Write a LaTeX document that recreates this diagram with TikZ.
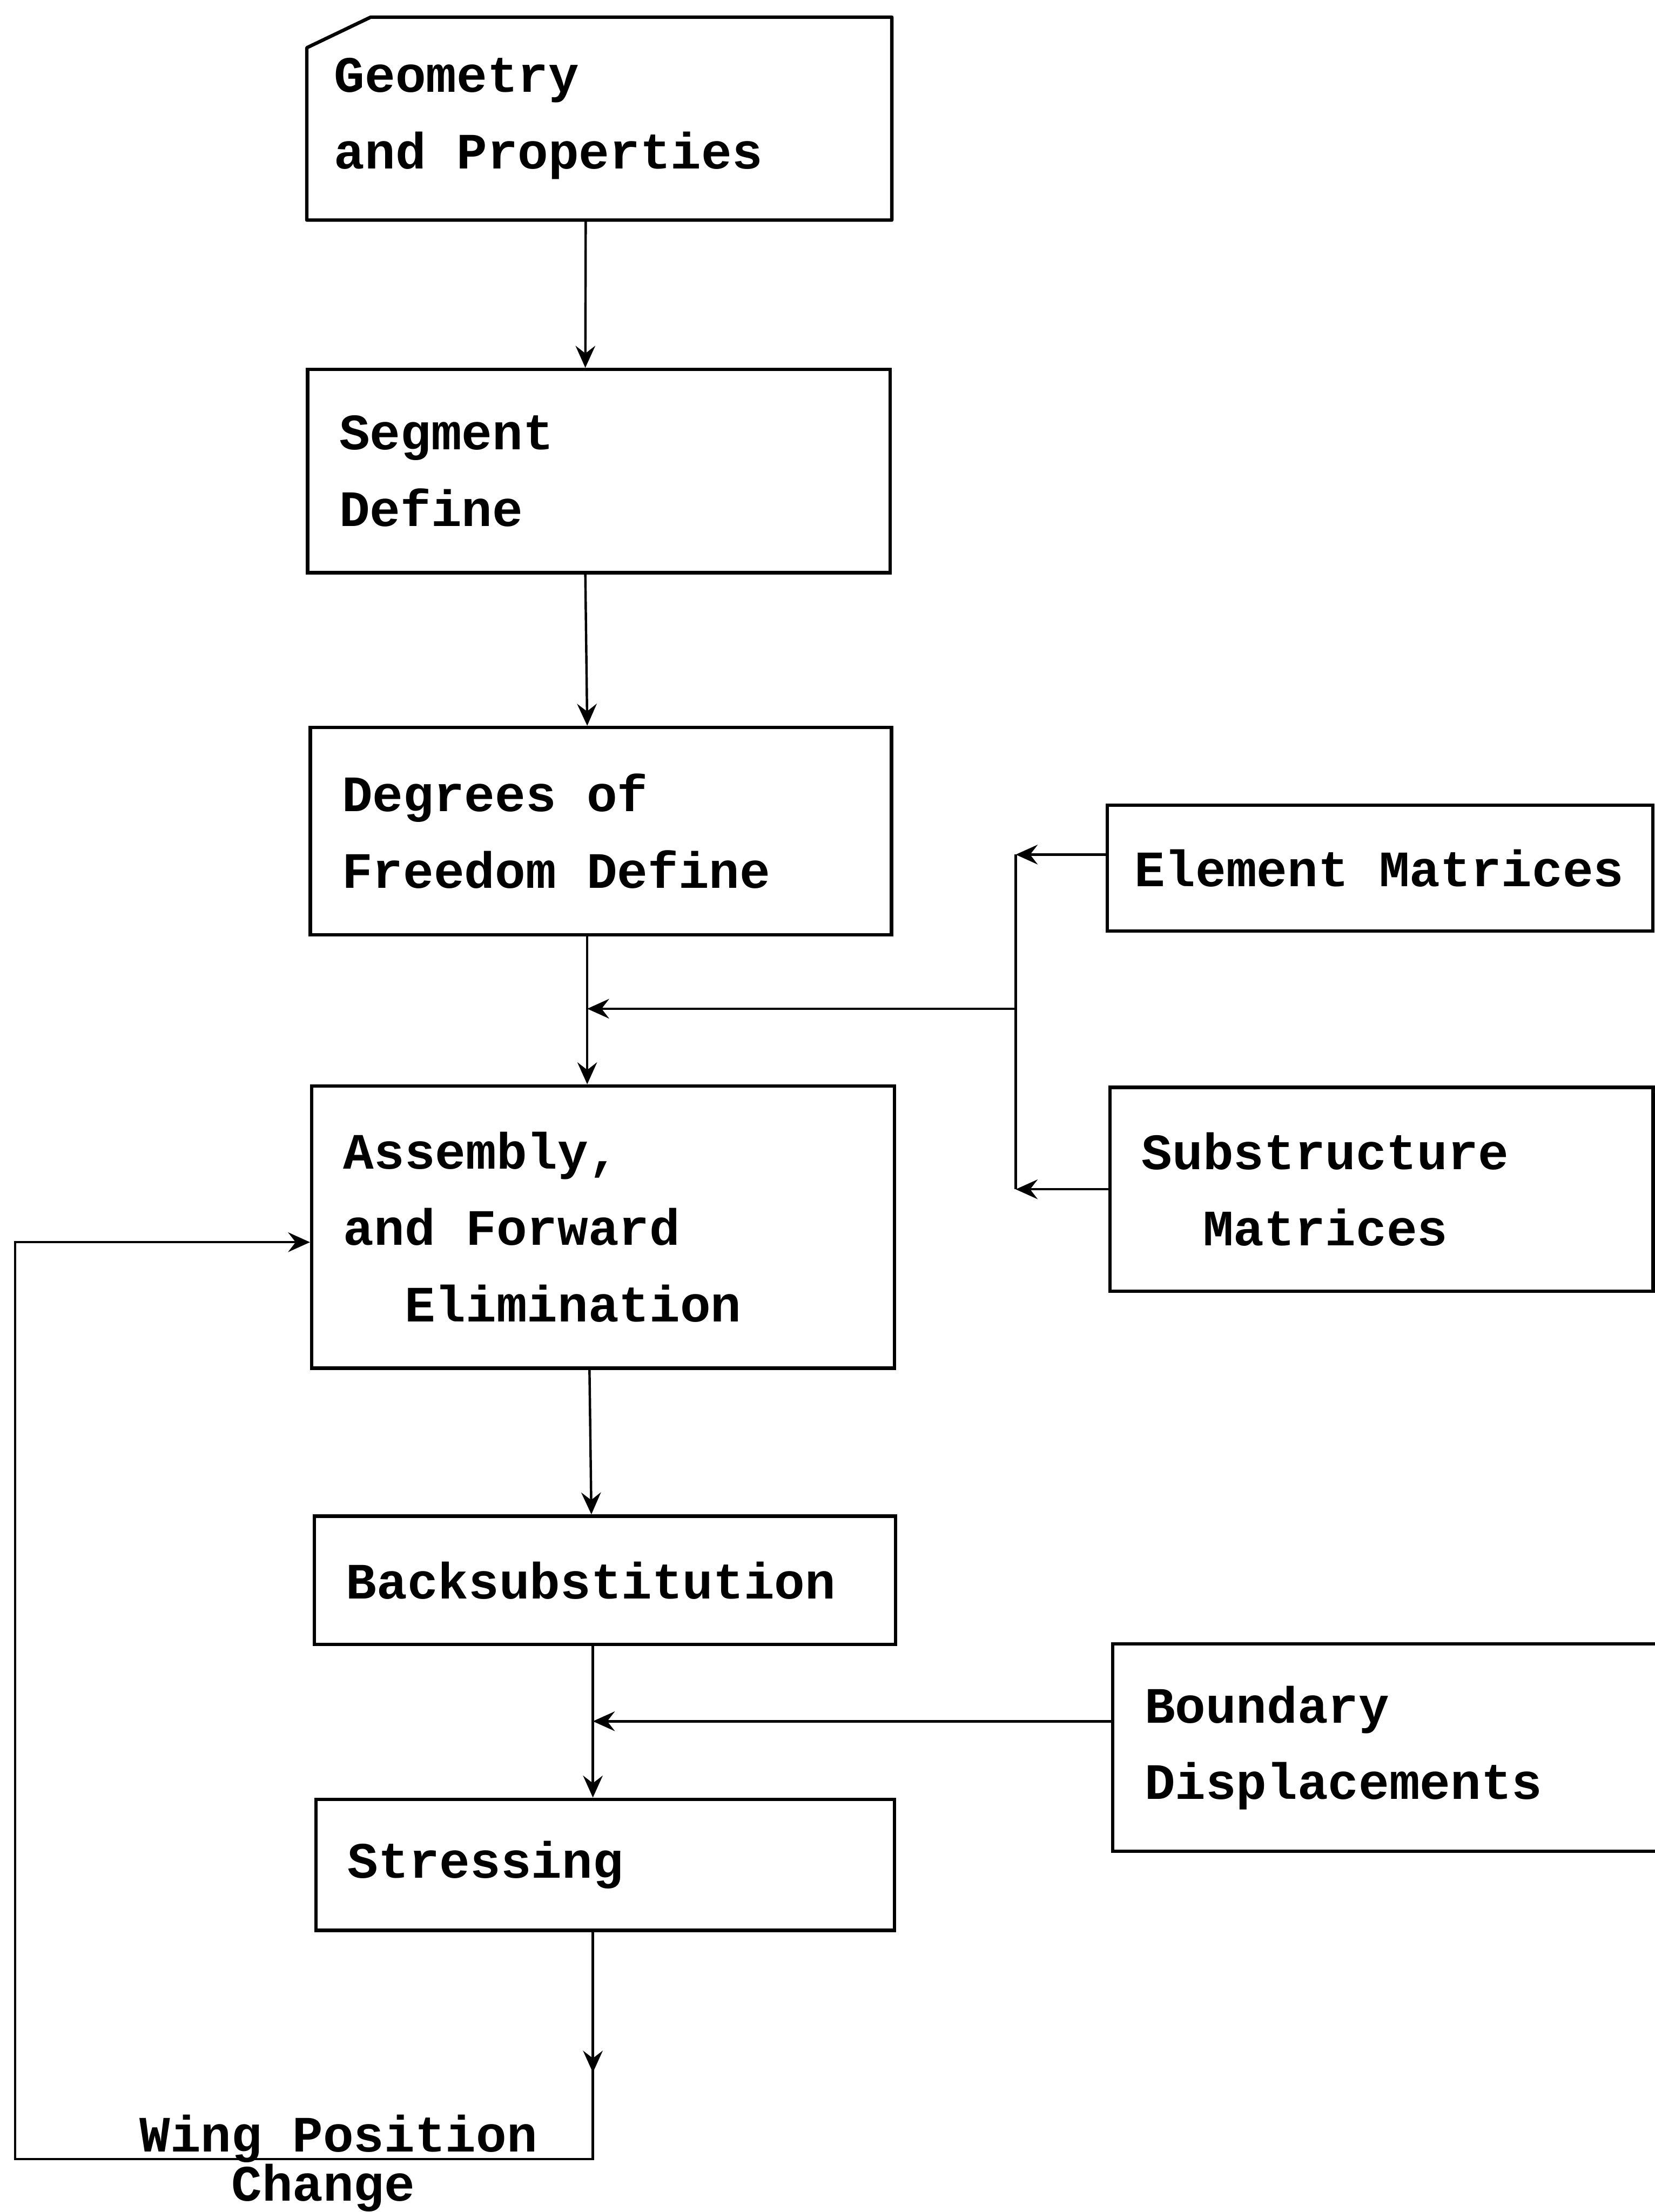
\documentclass[tikz,border=0pt]{standalone}
\usepackage{fontspec}
\setmonofont{Liberation Mono}
\usetikzlibrary{arrows.meta}

\newcommand{\typewriter}{\ttfamily\bfseries\fontsize{19.2}{28.7}\selectfont}

\tikzset{
	box/.style={draw, line width=1.3pt, rectangle, align=flush left, inner xsep=0.42cm, inner ysep=0pt, font=\typewriter,
		execute at begin node={\spaceskip=0.6em\relax\xspaceskip=0.6em\relax}},
	boxline/.style={line width=1.3pt, line join=round},
	line/.style={line width=0.9pt},
	flow/.style={line width=0.9pt, -{Stealth[length=2.9mm,width=2.6mm,inset=1mm]}},
	wing/.style={align=left, inner sep=0pt, font=\typewriter},
}

\begin{document}
\begin{tikzpicture}
	\useasboundingbox (0,0) rectangle (21.895,-29.275);

%% Main column
	\draw (7.93,-1.57) node[box, draw=none, inner xsep=0.34cm, text width=7.015cm, minimum height=2.64cm] (geo){Geometry\\and Properties};
	\draw[boxline] (geo.south west) -- ([yshift=-4.05mm]geo.north west) -- ([xshift=8.45mm]geo.north west) -- (geo.north east) -- (geo.south east) -- cycle;
	\draw (7.925,-6.235) node[box, text width=6.87cm, minimum height=2.69cm] (seg){Segment\\Define};
	\draw (7.95,-11.0) node[box, text width=6.85cm, minimum height=2.745cm] (dof){Degrees of\\Freedom Define};
	\draw (7.98,-16.24) node[box, text width=6.87cm, minimum height=3.735cm] (asm){Assembly,\\and Forward\\\phantom{an}Elimination};
	\draw (8.005,-20.915) node[box, text width=6.85cm, minimum height=1.70cm] (back){Backsubstitution};
	\draw (8.01,-24.68) node[box, text width=6.815cm, minimum height=1.735cm] (stress){Stressing};

%% Side inputs
	\draw (18.26,-11.49) node[box, inner xsep=0.36cm, text width=6.5cm, minimum height=1.665cm] (elem){Element Matrices};
	\draw (18.28,-15.74) node[box, text width=6.345cm, minimum height=2.70cm] (sub){Substructure\\\phantom{Su}Matrices};
	\draw (18.525,-23.13) node[box, text width=6.76cm, minimum height=2.745cm] (bnd){Boundary\\Displacements};

%% Loop label
	\draw (1.84,-29.13) node[wing, anchor=base west] (wing){Wing Position\\[-3.55mm]\phantom{Win}Change};

%% Connection points
	\coordinate (spine) at ([xshift=-1.8mm]dof.south);
	\coordinate (spinelow) at ([xshift=-1.6mm]back.south);
	\coordinate (bus) at (13.44,-13.35);
	\coordinate (elemin) at ([yshift=1.8mm]elem.west);
	\coordinate (bndin) at ([yshift=3.5mm]bnd.west);
	\coordinate (asmin) at ([yshift=-2mm]asm.west);
	\coordinate (wingcorner) at (0.2,-28.575);

	% Lines
	\draw[flow] ([xshift=-1.8mm]geo.south) -- ([xshift=-1.8mm]seg.north);
	\draw[flow] ([xshift=-1.8mm]seg.south) -- ([xshift=-1.8mm]dof.north);
	\draw[flow] (spine) -- (spine |- asm.north);
	\draw[flow] ([xshift=-1.8mm]asm.south) -- ([xshift=-1.8mm]back.north);
	\draw[flow] (spinelow) -- (spinelow |- stress.north);

	\draw[flow] (elemin) -- (elemin -| bus);
	\draw[flow] (sub.west) -- (sub.west -| bus);
	\draw[line] (elemin -| bus) -- (sub.west -| bus);
	\draw[flow] (bus) -- (bus -| spine);
	\draw[flow] (bndin) -- (bndin -| spinelow);

	\draw[flow] (spinelow |- stress.south) -- ++(0,-1.86);
	\draw[flow] (spinelow |- stress.south) |- (wingcorner) |- (asmin);
\end{tikzpicture}
\end{document}
